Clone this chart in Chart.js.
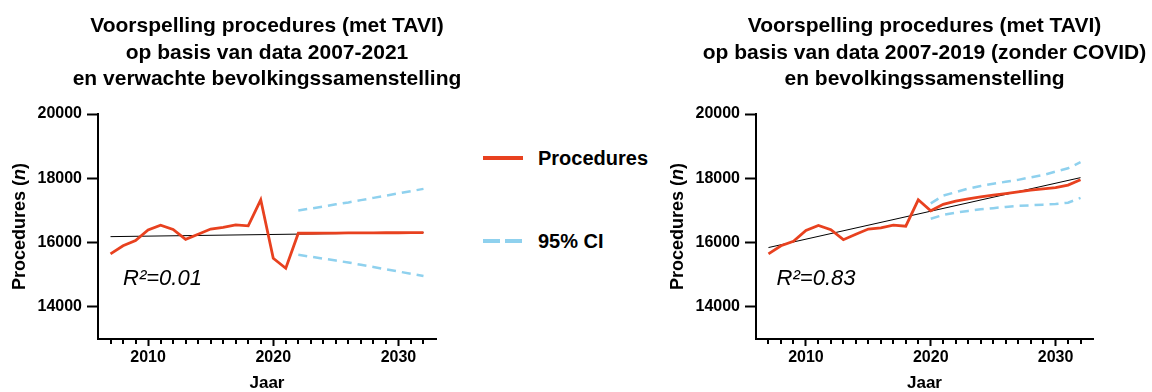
<!DOCTYPE html>
<html>
<head>
<meta charset="utf-8">
<script src="https://cdn.jsdelivr.net/npm/chart.js@4.4.1/dist/chart.umd.min.js"></script>
<style>
  html, body { margin: 0; padding: 0; background: #fff; }
  #page { position: relative; width: 1152px; height: 392px; overflow: hidden;
          font-family: "Liberation Sans", Arial, sans-serif; }
  .panel { position: absolute; top: 0; height: 392px; }
  #leftPanel { left: 0; width: 480px; }
  #rightPanel { left: 658px; width: 494px; }
  .legend-item { position: absolute; left: 483px; height: 30px; display: flex; align-items: center; }
  .swatch { width: 40px; height: 4px; margin-right: 15px; }
  .swatch.solid { background: #e8411f; }
  .swatch.dashed { background: repeating-linear-gradient(90deg, #8fd1ee 0 17px, transparent 17px 22px); }
  .legend-item span { font-weight: bold; font-size: 20px; color: #000; }
</style>
</head>
<body>
<div id="page">
  <div class="panel" id="leftPanel"><canvas id="leftChart"></canvas></div>
  <div class="panel" id="rightPanel"><canvas id="rightChart"></canvas></div>
  <div class="legend-item" style="top:143px"><div class="swatch solid"></div><span>Procedures</span></div>
  <div class="legend-item" style="top:226px"><div class="swatch dashed"></div><span>95% CI</span></div>
</div>
<script>
// ---- Data -------------------------------------------------------------
// Left panel: observed 2007-2021, forecast 2022-2032
const yearsLeft = [2007, 2008, 2009, 2010, 2011, 2012, 2013, 2014, 2015, 2016, 2017, 2018, 2019,
                   2020, 2021, 2022, 2023, 2024, 2025, 2026, 2027, 2028, 2029, 2030, 2031, 2032];
const proceduresLeft = [15650, 15900, 16060, 16390, 16540, 16410, 16100, 16260, 16420, 16470, 16550, 16520, 17330,
                        15510, 15200, 16290, 16290, 16295, 16295, 16300, 16300, 16300, 16305, 16305, 16310, 16310];
const ciYearsLeft = [2022, 2023, 2024, 2025, 2026, 2027, 2028, 2029, 2030, 2031, 2032];
const ciUpperLeft = [17000, 17060, 17120, 17190, 17250, 17320, 17390, 17460, 17530, 17600, 17670];
const ciLowerLeft = [15620, 15560, 15500, 15440, 15380, 15310, 15240, 15170, 15100, 15030, 14960];
const trendYearsLeft = [2007, 2032];
const trendLeft = [16185, 16315];

// Right panel: observed 2007-2019, forecast 2020-2032
const yearsRight = [2007, 2008, 2009, 2010, 2011, 2012, 2013, 2014, 2015, 2016, 2017, 2018, 2019,
                    2020, 2021, 2022, 2023, 2024, 2025, 2026, 2027, 2028, 2029, 2030, 2031, 2032];
const proceduresRight = [15650, 15900, 16040, 16380, 16530, 16400, 16090, 16260, 16420, 16460, 16540, 16510, 17330,
                         16990, 17190, 17290, 17360, 17420, 17475, 17525, 17580, 17630, 17670, 17710, 17790, 17955];
const ciYearsRight = [2020, 2021, 2022, 2023, 2024, 2025, 2026, 2027, 2028, 2029, 2030, 2031, 2032];
const ciUpperRight = [17220, 17460, 17570, 17680, 17760, 17830, 17890, 17950, 18030, 18100, 18210, 18310, 18500];
const ciLowerRight = [16740, 16860, 16930, 16985, 17035, 17070, 17110, 17140, 17160, 17180, 17200, 17240, 17390];
const trendYearsRight = [2007, 2032];
const trendRight = [15845, 18020];

// Axes
const xTickYears = [2010, 2020, 2030];
const yTickValues = [14000, 16000, 18000, 20000];

const titleLeft = ['Voorspelling procedures (met TAVI)', 'op basis van data 2007-2021', 'en verwachte bevolkingssamenstelling'];
const titleRight = ['Voorspelling procedures (met TAVI)', 'op basis van data 2007-2019 (zonder COVID)', 'en bevolkingssamenstelling'];
const r2Left = 'R\u00B2=0.01';
const r2Right = 'R\u00B2=0.83';

// ---- Styling ----------------------------------------------------------
const FONT = '"Liberation Sans", Arial, sans-serif';
const RED = '#e8411f';
const BLUE = '#8fd1ee';

const pts = (xs, ys) => xs.map((x, i) => ({ x, y: ys[i] }));

// Titles, rotated y-axis title (italic n), minor year ticks and R² note
const panelDecor = {
  id: 'panelDecor',
  afterDraw(chart, args, opts) {
    const { ctx, chartArea } = chart;
    const xs = chart.scales.x, ys = chart.scales.y;
    const cx = (chartArea.left + chartArea.right) / 2;
    ctx.save();
    ctx.fillStyle = '#000';
    ctx.textAlign = 'center';
    ctx.textBaseline = 'alphabetic';
    ctx.font = 'bold 21px ' + FONT;
    opts.title.forEach((line, i) => ctx.fillText(line, cx, 32 + i * 26.5));

    // minor ticks, one per year
    ctx.strokeStyle = '#000';
    ctx.lineWidth = 2;
    const yAxis = chartArea.bottom + 1;
    for (let yr = 2007; yr <= 2032; yr++) {
      if (yr % 10 === 0) continue;
      const px = Math.round(xs.getPixelForValue(yr));
      ctx.beginPath();
      ctx.moveTo(px, yAxis);
      ctx.lineTo(px, yAxis + 4);
      ctx.stroke();
    }

    // y-axis title
    const parts = [['Procedures (', 'bold 18px ' + FONT], ['n', 'italic bold 18px ' + FONT], [')', 'bold 18px ' + FONT]];
    ctx.save();
    ctx.translate(chartArea.left - 73, (chartArea.top + chartArea.bottom) / 2);
    ctx.rotate(-Math.PI / 2);
    ctx.textAlign = 'left';
    let total = 0;
    parts.forEach(([t, f]) => { ctx.font = f; total += ctx.measureText(t).width; });
    let x0 = -total / 2;
    parts.forEach(([t, f]) => { ctx.font = f; ctx.fillText(t, x0, 0); x0 += ctx.measureText(t).width; });
    ctx.restore();

    // R² note
    ctx.font = 'italic 22px ' + FONT;
    ctx.textAlign = 'left';
    ctx.textBaseline = 'middle';
    ctx.fillText(opts.r2, xs.getPixelForValue(opts.r2x), ys.getPixelForValue(opts.r2y));
    ctx.restore();
  }
};

function makeChart(canvasId, d) {
  return new Chart(document.getElementById(canvasId), {
    type: 'line',
    data: {
      datasets: [
        { label: 'Procedures', data: pts(d.years, d.procedures), borderColor: RED, borderWidth: 2.8,
          pointRadius: 0, tension: 0, fill: false },
        { label: 'Trend', data: pts(d.trendYears, d.trend), borderColor: '#000', borderWidth: 1,
          pointRadius: 0, fill: false },
        { label: '95% CI', data: pts(d.ciYears, d.ciUpper), borderColor: BLUE, borderWidth: 2.5,
          borderDash: [9, 6], pointRadius: 0, fill: false },
        { label: '95% CI lower', data: pts(d.ciYears, d.ciLower), borderColor: BLUE, borderWidth: 2.5,
          borderDash: [9, 6], pointRadius: 0, fill: false }
      ]
    },
    options: {
      responsive: true,
      maintainAspectRatio: false,
      animation: false,
      layout: { padding: { top: 114, left: 0, right: d.padRight, bottom: 0 } },
      plugins: {
        legend: { display: false },
        tooltip: { enabled: false },
        panelDecor: { title: d.title, r2: d.r2, r2x: d.r2x, r2y: 14880 }
      },
      scales: {
        x: {
          type: 'linear', min: 2006, max: 2033,
          afterBuildTicks: s => { s.ticks = xTickYears.map(v => ({ value: v })); },
          afterFit: s => { s.height = 53; },
          ticks: { color: '#000', font: { family: FONT, size: 16, weight: 'bold' }, padding: 2,
                   maxRotation: 0, callback: v => String(v) },
          grid: { drawOnChartArea: false, drawTicks: true, tickLength: 7, tickWidth: 2, tickColor: '#000' },
          border: { display: true, color: '#000', width: 2 },
          title: { display: true, text: 'Jaar', color: '#000',
                   font: { family: FONT, size: 17, weight: 'bold', lineHeight: 1 }, padding: { top: 0, bottom: 0 } }
        },
        y: {
          type: 'linear', min: 13000, max: 20000,
          afterBuildTicks: s => { s.ticks = yTickValues.map(v => ({ value: v })); },
          afterFit: s => { s.width = 98; },
          ticks: { color: '#000', font: { family: FONT, size: 16, weight: 'bold' }, padding: 5,
                   callback: v => String(v) },
          grid: { drawOnChartArea: false, drawTicks: true, tickLength: 11, tickWidth: 2, tickColor: '#000' },
          border: { display: true, color: '#000', width: 2 }
        }
      }
    },
    plugins: [panelDecor]
  });
}

makeChart('leftChart', {
  years: yearsLeft, procedures: proceduresLeft,
  ciYears: ciYearsLeft, ciUpper: ciUpperLeft, ciLower: ciLowerLeft,
  trendYears: trendYearsLeft, trend: trendLeft,
  title: titleLeft, r2: r2Left, r2x: 2008.0, padRight: 44
});
makeChart('rightChart', {
  years: yearsRight, procedures: proceduresRight,
  ciYears: ciYearsRight, ciUpper: ciUpperRight, ciLower: ciLowerRight,
  trendYears: trendYearsRight, trend: trendRight,
  title: titleRight, r2: r2Right, r2x: 2007.65, padRight: 59
});
</script>
</body>
</html>
